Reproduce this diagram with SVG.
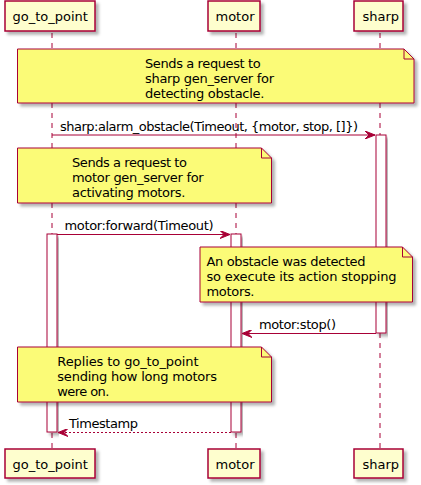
<svg xmlns="http://www.w3.org/2000/svg" width="421" height="485" viewBox="0 0 421 485">
<defs>
<filter id="sh" x="-10%" y="-10%" width="130%" height="140%">
<feDropShadow dx="3" dy="3" stdDeviation="1.5" flood-color="#000" flood-opacity="0.3"/>
</filter>
<marker id="ah" viewBox="0 0 10 8" refX="10" refY="4" markerWidth="10" markerHeight="8" markerUnits="userSpaceOnUse" orient="auto">
<polygon points="0,0 10,4 0,8 4,4" fill="#A80036" stroke="#A80036" stroke-width="1"/>
</marker>
</defs>
<style>
text{font-family:"DejaVu Sans",sans-serif;font-size:13px;fill:#000}
.part rect{fill:#FEFECE;stroke:#A80036;stroke-width:1.5;filter:url(#sh)}
.life{stroke:#A80036;stroke-width:1;stroke-dasharray:5,5}
.act{fill:#FFFFFF;stroke:#A80036;stroke-width:1;filter:url(#sh)}
.note path.b{fill:#FBFB77;stroke:#A80036;stroke-width:1;filter:url(#sh)}
.note path.f{fill:none;stroke:#A80036;stroke-width:1}
.msg{stroke:#A80036;stroke-width:1;fill:none;marker-end:url(#ah)}
.ret{stroke-dasharray:2,2}
</style>
<g id="lifelines">
<line class="life" x1="52" y1="33" x2="52" y2="449"/>
<line class="life" x1="236" y1="33" x2="236" y2="449"/>
<line class="life" x1="380" y1="33" x2="380" y2="449"/>
</g>
<g id="p_go_to_point_top" class="part"><rect x="5" y="1" width="90" height="30"/><text x="12.5" y="20.5">go_to_point</text></g>
<g id="p_motor_top" class="part"><rect x="208" y="1" width="52" height="30"/><text x="215.5" y="20.5">motor</text></g>
<g id="p_sharp_top" class="part"><rect x="354" y="1" width="49" height="30"/><text x="362.5" y="20.5">sharp</text></g>
<g id="note1" class="note">
<path class="b" d="M17.5,49 L17.5,103 L414,103 L414,59 L404,49 Z"/>
<path class="f" d="M404,49 L404,59 L414,59"/>
<text><tspan x="145" y="67.5" textLength="115.7">Sends a request to</tspan><tspan x="145" y="82.7" textLength="129">sharp gen_server for</tspan><tspan x="145" y="97.9" textLength="119.3">detecting obstacle.</tspan></text>
</g>
<g id="act_sharp"><rect class="act" x="376" y="135" width="10" height="198"/></g>
<g id="note2" class="note">
<path class="b" d="M17.5,148 L17.5,203 L271.5,203 L271.5,158 L261.5,148 Z"/>
<path class="f" d="M261.5,148 L261.5,158 L271.5,158"/>
<text><tspan x="72" y="166.5" textLength="115">Sends a request to</tspan><tspan x="72" y="181.7" textLength="131.7">motor gen_server for</tspan><tspan x="72" y="196.9" textLength="113.3">activating motors.</tspan></text>
</g>
<g id="act_go"><rect class="act" x="47" y="234" width="10" height="198"/></g>
<g id="act_motor"><rect class="act" x="231" y="234" width="10" height="198"/></g>
<g id="note3" class="note">
<path class="b" d="M200,247 L200,302 L412.5,302 L412.5,257 L402.5,247 Z"/>
<path class="f" d="M402.5,247 L402.5,257 L412.5,257"/>
<text><tspan x="206.5" y="265.5" textLength="159">An obstacle was detected</tspan><tspan x="206.5" y="280.7" textLength="190">so execute its action stopping</tspan><tspan x="206.5" y="295.9" textLength="48">motors.</tspan></text>
</g>
<g id="note4" class="note">
<path class="b" d="M17.5,347 L17.5,402 L271.5,402 L271.5,357 L261.5,347 Z"/>
<path class="f" d="M261.5,347 L261.5,357 L271.5,357"/>
<text><tspan x="57.3" y="365.5" textLength="141.3">Replies to go_to_point</tspan><tspan x="57.3" y="380.7" textLength="159.7">sending how long motors</tspan><tspan x="57.3" y="395.9" textLength="52">were on.</tspan></text>
</g>
<g id="connectors">
<line class="msg" x1="52" y1="135" x2="375" y2="135"/>
<text x="60" y="130.5" textLength="298">sharp:alarm_obstacle(Timeout, {motor, stop, []})</text>
<line class="msg" x1="57" y1="234.5" x2="230" y2="234.5"/>
<text x="64.5" y="229.5" textLength="149">motor:forward(Timeout)</text>
<line class="msg" x1="376" y1="333.5" x2="242" y2="333.5"/>
<text x="259" y="328.5" textLength="77">motor:stop()</text>
<line class="msg ret" x1="231" y1="432.5" x2="58" y2="432.5"/>
<text x="69" y="427.5" textLength="69">Timestamp</text>
</g>
<g id="p_go_to_point_bottom" class="part"><rect x="5" y="449" width="90" height="29"/><text x="12.5" y="468.5">go_to_point</text></g>
<g id="p_motor_bottom" class="part"><rect x="208" y="449" width="52" height="29"/><text x="215.5" y="468.5">motor</text></g>
<g id="p_sharp_bottom" class="part"><rect x="354" y="449" width="49" height="29"/><text x="362.5" y="468.5">sharp</text></g>
</svg>
